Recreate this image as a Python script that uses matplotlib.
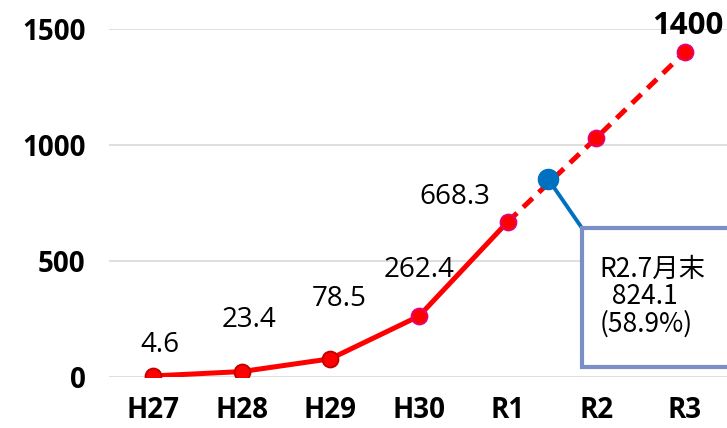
import matplotlib.pyplot as plt
from matplotlib.patches import Rectangle

# data
years = ["H27", "H28", "H29", "H30", "R1", "R2", "R3"]
values = [4.6, 23.4, 78.5, 262.4, 668.3, 1030, 1400]
labels = ["4.6", "23.4", "78.5", "262.4", "668.3", "", "1400"]
actual_x = 4.455          # R2.7月末 position between R1 and R2
actual_y = 855
actual_text = "R2.7月末\n  824.1\n(58.9%)"

# label offsets in points (layout only)
label_offsets = [(5, 22), (5, 37), (6, 43), (0, 33), (-38, 18), (0, 0), (2, 19)]
edge_colors = ["#c00000", "#c00000", "#c00000", "#e6007e", "#e6007e", "#e6007e", "#e6007e"]

fig = plt.figure(figsize=(7.27, 4.28), dpi=100)
ax = fig.add_axes([109 / 727, 51 / 428, 620 / 727, 348 / 428])

x = list(range(len(years)))
ax.plot(x[:5], values[:5], color="#ff0000", lw=3.6, solid_capstyle="round", zorder=3)
ax.plot(x[4:], values[4:], color="#ff0000", lw=3.6, ls=(0, (2.6, 1.7)), zorder=3)
for i in x:
    ax.plot(x[i], values[i], "o", ms=11.5, mfc="#ff0000", mec=edge_colors[i], mew=1.3, zorder=4)

for i, lab in enumerate(labels):
    if not lab:
        continue
    bold = lab == "1400"
    ax.annotate(lab, (x[i], values[i]), xytext=label_offsets[i], textcoords="offset points",
                ha="center", va="center", fontsize=20 if not bold else 22.5,
                fontweight="bold" if bold else "normal", family="Open Sans", color="black",
                annotation_clip=False, zorder=5)

# current value marker and callout box
box_x0, box_y0 = 4.84, 43
ax.plot([actual_x, box_x0], [actual_y, 642], color="#0070c0", lw=2.8, zorder=2)
ax.plot(actual_x, actual_y, "o", ms=14.5, color="#0070c0", zorder=5)
ax.add_patch(Rectangle((box_x0, box_y0), 2.0, 599, fill=True, fc="white", ec="#7b8fc7",
                       lw=3, clip_on=False, zorder=6))
ax.text(box_x0 + 0.2, 522, actual_text, ha="left", va="top", fontsize=19,
        family=["Noto Sans CJK JP", "DejaVu Sans"], linespacing=1.02, zorder=7)

ax.set_xlim(-0.5, 6.5)
ax.set_ylim(0, 1500)
ax.set_yticks([0, 500, 1000, 1500])
ax.set_xticks(x)
ax.set_xticklabels(years)
ax.grid(axis="y", color="#d9d9d9", lw=1.2)
ax.set_axisbelow(True)
for s in ax.spines.values():
    s.set_visible(False)
ax.tick_params(length=0, pad=17)
ax.tick_params(axis="x", pad=14)
for t in ax.get_xticklabels() + ax.get_yticklabels():
    t.set_family("Open Sans")
    t.set_fontweight("bold")
    t.set_fontsize(20)

fig.savefig("out.png", dpi=100)
